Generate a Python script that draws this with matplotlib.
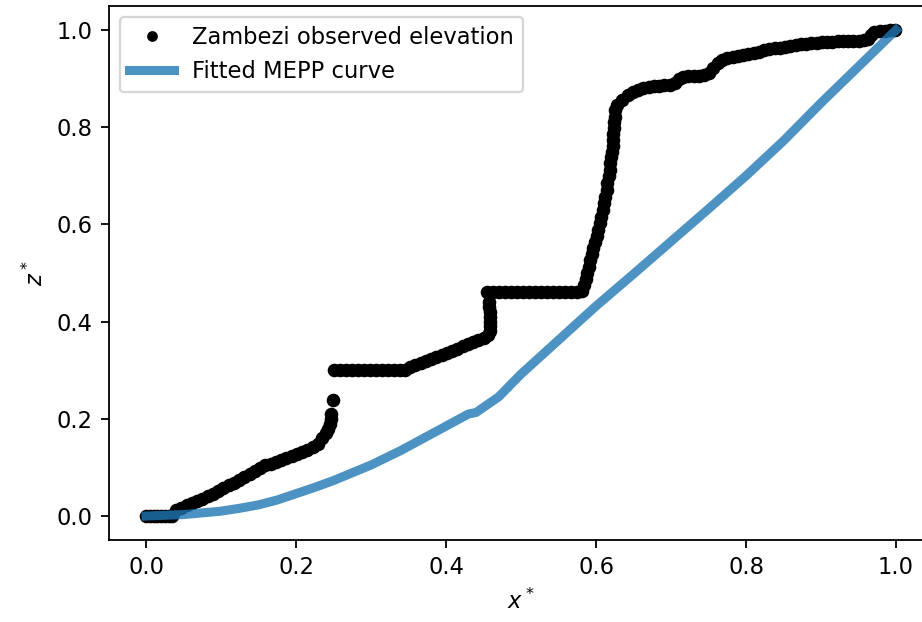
import matplotlib
matplotlib.use("Agg")
import matplotlib.pyplot as plt
import numpy as np

# observed normalised elevation profile
x_obs = [0.000, 0.005, 0.010, 0.015, 0.020, 0.025, 0.030, 0.035,
         0.040, 0.047, 0.054, 0.061, 0.068, 0.075, 0.082, 0.089, 0.096, 0.103,
         0.110, 0.117, 0.124, 0.131, 0.138, 0.145, 0.152, 0.159, 0.166, 0.173,
         0.180, 0.187, 0.194, 0.201, 0.208, 0.215, 0.222, 0.229, 0.235, 0.240,
         0.243, 0.245, 0.246, 0.247, 0.249,
         0.250, 0.258, 0.266, 0.274, 0.282, 0.290, 0.298, 0.306, 0.314, 0.322,
         0.330, 0.338, 0.345,
         0.352, 0.359, 0.366, 0.373, 0.380, 0.387, 0.394, 0.401, 0.408, 0.415,
         0.422, 0.429, 0.436, 0.443, 0.450, 0.456,
         0.459, 0.459, 0.459, 0.458, 0.458, 0.457, 0.457,
         0.455, 0.463, 0.471, 0.479, 0.487, 0.495, 0.503, 0.511, 0.519, 0.527,
         0.535, 0.543, 0.551, 0.559, 0.567, 0.575, 0.581,
         0.584, 0.586, 0.588, 0.590, 0.592, 0.594, 0.596, 0.598, 0.601, 0.603,
         0.605, 0.607, 0.609, 0.611, 0.612, 0.614, 0.615, 0.617, 0.618, 0.619,
         0.620, 0.621, 0.622, 0.623, 0.623, 0.624, 0.624, 0.625, 0.625, 0.628,
         0.635, 0.642, 0.649, 0.656, 0.663, 0.670, 0.677, 0.684, 0.691, 0.698,
         0.705, 0.710, 0.716, 0.723, 0.730, 0.737, 0.744, 0.751, 0.756, 0.762,
         0.768, 0.775, 0.782, 0.789, 0.796, 0.803, 0.810, 0.817, 0.824, 0.831,
         0.838, 0.845, 0.852, 0.859, 0.866, 0.873, 0.880, 0.887, 0.894, 0.901,
         0.908, 0.915, 0.922, 0.929, 0.936, 0.943, 0.950, 0.957, 0.963, 0.967,
         0.971, 0.978, 0.985, 0.992, 0.999]
z_obs = [0.000, 0.000, 0.000, 0.000, 0.000, 0.000, 0.000, 0.000,
         0.013, 0.017, 0.022, 0.026, 0.031, 0.036, 0.041, 0.046, 0.052, 0.057,
         0.063, 0.068, 0.074, 0.080, 0.086, 0.093, 0.099, 0.104, 0.108, 0.112,
         0.116, 0.119, 0.123, 0.127, 0.131, 0.136, 0.142, 0.149, 0.160, 0.170,
         0.180, 0.190, 0.200, 0.210, 0.239,
         0.300, 0.300, 0.300, 0.300, 0.300, 0.300, 0.300, 0.300, 0.300, 0.300,
         0.300, 0.300, 0.300,
         0.306, 0.311, 0.315, 0.319, 0.323, 0.327, 0.331, 0.335, 0.340, 0.344,
         0.349, 0.353, 0.358, 0.362, 0.366, 0.372,
         0.380, 0.390, 0.400, 0.410, 0.420, 0.430, 0.440,
         0.460, 0.460, 0.460, 0.460, 0.460, 0.460, 0.460, 0.460, 0.460, 0.460,
         0.460, 0.460, 0.460, 0.460, 0.460, 0.460, 0.462,
         0.475, 0.488, 0.500, 0.513, 0.527, 0.540, 0.552, 0.564, 0.576, 0.588,
         0.602, 0.616, 0.630, 0.644, 0.657, 0.671, 0.685, 0.699, 0.712, 0.726,
         0.738, 0.750, 0.762, 0.774, 0.786, 0.798, 0.810, 0.822, 0.835, 0.845,
         0.856, 0.866, 0.872, 0.876, 0.880, 0.883, 0.884, 0.885, 0.886, 0.887,
         0.892, 0.900, 0.904, 0.905, 0.906, 0.906, 0.907, 0.912, 0.922, 0.933,
         0.939, 0.942, 0.945, 0.947, 0.949, 0.951, 0.953, 0.955, 0.958, 0.960,
         0.962, 0.964, 0.966, 0.968, 0.970, 0.971, 0.972, 0.973, 0.974, 0.975,
         0.976, 0.976, 0.977, 0.977, 0.978, 0.978, 0.978, 0.979, 0.982, 0.990,
         0.996, 0.998, 0.999, 1.000, 1.000]

# fitted MEPP curve
x_fit = [0.000, 0.050, 0.100, 0.125, 0.150, 0.175, 0.200, 0.225, 0.250, 0.300,
         0.340, 0.400, 0.430, 0.440, 0.470, 0.500, 0.550, 0.600, 0.650, 0.700,
         0.750, 0.800, 0.850, 0.900, 0.950, 1.000]
z_fit = [0.000, 0.003, 0.010, 0.016, 0.023, 0.033, 0.046, 0.059, 0.073, 0.105,
         0.135, 0.185, 0.210, 0.213, 0.245, 0.292, 0.362, 0.432, 0.498, 0.565,
         0.632, 0.700, 0.772, 0.850, 0.925, 1.000]

fig = plt.figure(figsize=(922/163, 622/163), dpi=163)
ax = fig.add_axes([0.1177, 0.1313, 0.8948, 0.8595])

ax.plot(x_obs, z_obs, 'k.', ms=10, label='Zambezi observed elevation')
ax.plot(x_fit, z_fit, color='C0', lw=4, alpha=0.8, label='Fitted MEPP curve')

ax.set_xlim(-0.05, 1.05)
ax.set_ylim(-0.05, 1.05)
ax.set_xlabel('$x^*$')
ax.set_ylabel('$z^*$')
ax.legend(loc='upper left', markerscale=0.75)

fig.savefig('out.png', dpi=163)
